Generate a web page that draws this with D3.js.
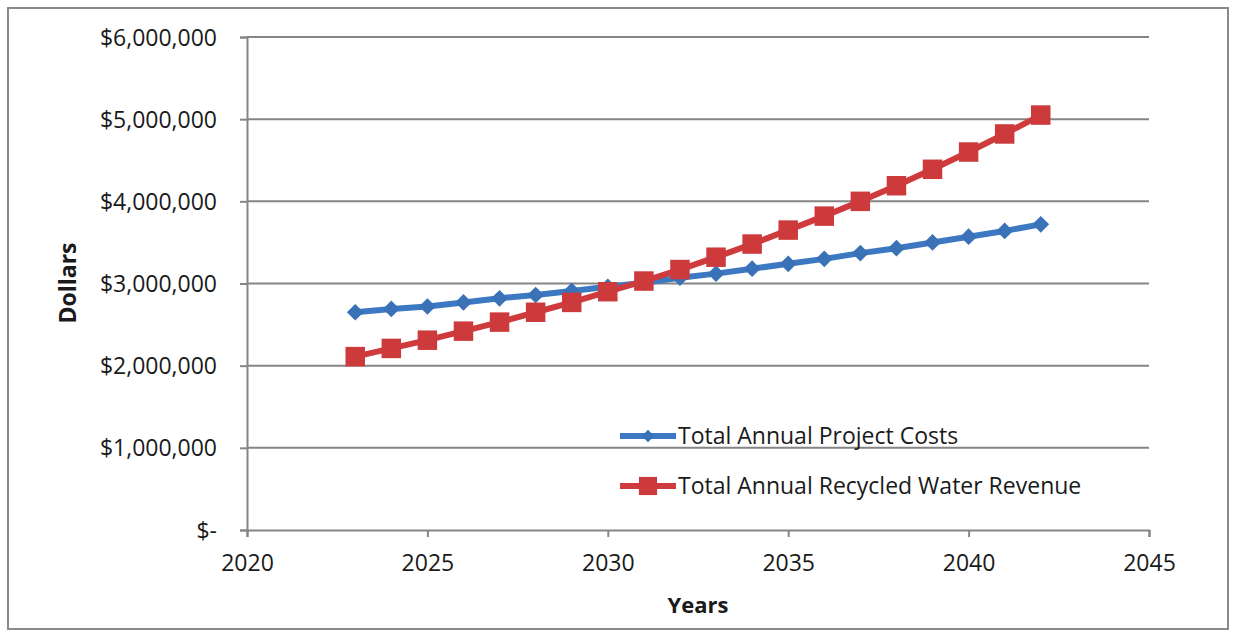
<!DOCTYPE html>
<html>
<head>
<meta charset="utf-8">
<script src="https://cdn.jsdelivr.net/npm/d3@7/dist/d3.min.js"></script>
<style>
  html, body { margin: 0; padding: 0; background: #fff; }
  svg { display: block; }
  text { font-family: "Open Sans", "Noto Sans", sans-serif; fill: #1a1a1a; }
</style>
</head>
<body>
<svg id="chart" width="1235" height="630"></svg>
<script>
// Years of the projection
const years = [2023, 2024, 2025, 2026, 2027, 2028, 2029, 2030, 2031, 2032,
               2033, 2034, 2035, 2036, 2037, 2038, 2039, 2040, 2041, 2042];

// Total annual project costs (dollars)
const projectCosts = [2650000, 2690000, 2720000, 2770000, 2820000, 2860000, 2910000,
                      2960000, 3010000, 3070000, 3120000, 3180000, 3240000, 3300000,
                      3370000, 3430000, 3500000, 3570000, 3640000, 3720000];

// Total annual recycled water revenue (dollars)
const waterRevenue = [2110000, 2210000, 2310000, 2420000, 2530000, 2650000, 2770000,
                      2900000, 3030000, 3170000, 3320000, 3480000, 3650000, 3820000,
                      4000000, 4190000, 4390000, 4600000, 4820000, 5050000];

const xTicks = [2020, 2025, 2030, 2035, 2040, 2045];
const yTicks = [0, 1000000, 2000000, 3000000, 4000000, 5000000, 6000000];
const seriesNames = ["Total Annual Project Costs", "Total Annual Recycled Water Revenue"];

const svg = d3.select("#chart");
const W = 1235, H = 630;
const plot = { left: 247, right: 1149, top: 37, bottom: 530 };

// Outer chart frame
svg.append("rect")
  .attr("x", 8).attr("y", 8).attr("width", W - 15).attr("height", H - 9)
  .attr("fill", "#fff").attr("stroke", "#8a8a8a").attr("stroke-width", 2);

const x = d3.scaleLinear().domain([2020, 2045]).range([plot.left, plot.right]);
const y = d3.scaleLinear().domain([0, 6000000]).range([plot.bottom, plot.top]);

const money = v => v === 0 ? "$-" : "$" + d3.format(",")(v);

// Horizontal gridlines
svg.append("g")
  .selectAll("line")
  .data(yTicks.filter(v => v > 0))
  .join("line")
  .attr("x1", plot.left).attr("x2", plot.right)
  .attr("y1", d => y(d)).attr("y2", d => y(d))
  .attr("stroke", "#858585").attr("stroke-width", 2);

// Y axis
const yAxis = svg.append("g")
  .attr("transform", `translate(${plot.left},0)`)
  .call(d3.axisLeft(y).tickValues(yTicks).tickFormat(money).tickSize(7).tickPadding(23));
yAxis.select(".domain").attr("stroke", "#858585").attr("stroke-width", 2);
yAxis.selectAll(".tick line").attr("stroke", "#858585").attr("stroke-width", 2);
yAxis.selectAll(".tick text")
  .attr("font-size", 23).attr("fill", "#1a1a1a")
  .attr("font-family", "\"Open Sans\", sans-serif")
  .attr("dy", "0.35em");

// X axis
const xAxis = svg.append("g")
  .attr("transform", `translate(0,${plot.bottom})`)
  .call(d3.axisBottom(x).tickValues(xTicks).tickFormat(d3.format("d")).tickSize(7).tickPadding(18));
xAxis.select(".domain").attr("stroke", "#858585").attr("stroke-width", 2);
xAxis.selectAll(".tick line").attr("stroke", "#858585").attr("stroke-width", 2);
xAxis.selectAll(".tick text")
  .attr("font-size", 23).attr("fill", "#1a1a1a")
  .attr("font-family", "\"Open Sans\", sans-serif");

// Axis titles
svg.append("text")
  .attr("transform", `translate(76,283) rotate(-90)`)
  .attr("text-anchor", "middle")
  .attr("font-size", 23).attr("font-weight", "bold")
  .text("Dollars");
svg.append("text")
  .attr("x", 698).attr("y", 613)
  .attr("text-anchor", "middle")
  .attr("font-size", 22).attr("font-weight", "bold")
  .text("Years");

const blue = "#3d78c2", red = "#cf3b3d";
const line = d3.line().x(d => x(d[0])).y(d => y(d[1]));

const costData = years.map((yr, i) => [yr, projectCosts[i]]);
const revData = years.map((yr, i) => [yr, waterRevenue[i]]);

// Project cost series: line with diamond markers
svg.append("path").datum(costData)
  .attr("d", line).attr("fill", "none")
  .attr("stroke", blue).attr("stroke-width", 6).attr("stroke-linejoin", "round");
const diamond = d3.symbol().type(d3.symbolSquare).size(140);
svg.append("g").selectAll("path")
  .data(costData)
  .join("path")
  .attr("d", diamond)
  .attr("transform", d => `translate(${x(d[0])},${y(d[1])}) rotate(45)`)
  .attr("fill", "#3a72b8");

// Revenue series: line with square markers
svg.append("path").datum(revData)
  .attr("d", line).attr("fill", "none")
  .attr("stroke", red).attr("stroke-width", 6).attr("stroke-linejoin", "round");
const square = d3.symbol().type(d3.symbolSquare).size(380);
svg.append("g").selectAll("path")
  .data(revData)
  .join("path")
  .attr("d", square)
  .attr("transform", d => `translate(${x(d[0])},${y(d[1])})`)
  .attr("fill", "#cc3a3c");

// Legend
const legend = svg.append("g");
const legendRows = [
  { name: seriesNames[0], color: blue, marker: "diamond", y: 436 },
  { name: seriesNames[1], color: red, marker: "square", y: 486 }
];
legendRows.forEach(r => {
  legend.append("line")
    .attr("x1", 620).attr("x2", 676).attr("y1", r.y).attr("y2", r.y)
    .attr("stroke", r.color).attr("stroke-width", 6);
  if (r.marker === "diamond") {
    legend.append("path")
      .attr("d", d3.symbol().type(d3.symbolSquare).size(80))
      .attr("transform", `translate(648,${r.y}) rotate(45)`)
      .attr("fill", "#3a72b8");
  } else {
    legend.append("path")
      .attr("d", d3.symbol().type(d3.symbolSquare).size(330))
      .attr("transform", `translate(648,${r.y})`)
      .attr("fill", "#cc3a3c");
  }
  legend.append("text")
    .attr("x", 678).attr("y", r.y).attr("dy", "0.35em")
    .attr("font-size", 23)
    .text(r.name);
});
</script>
</body>
</html>
